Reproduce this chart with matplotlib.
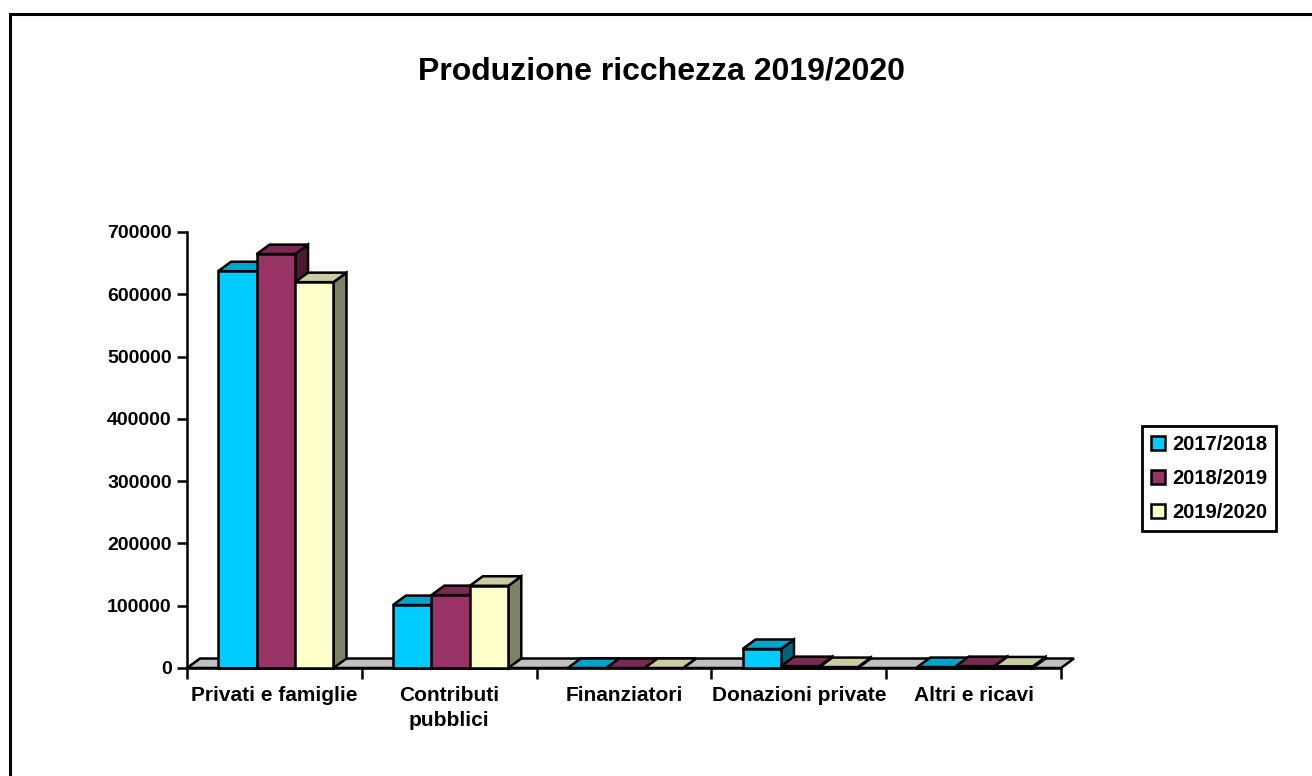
import matplotlib
matplotlib.use("Agg")
import matplotlib.pyplot as plt
from matplotlib.patches import Polygon, Rectangle
import numpy as np

categories = ["Privati e famiglie", "Contributi\npubblici", "Finanziatori",
              "Donazioni private", "Altri e ricavi"]
series_names = ["2017/2018", "2018/2019", "2019/2020"]
values_2017_2018 = [637000, 101000, 0, 30500, 1500]
values_2018_2019 = [664500, 117000, 0, 3000, 3000]
values_2019_2020 = [619500, 132000, 0, 1500, 2500]
y_ticks = [0, 100000, 200000, 300000, 400000, 500000, 600000, 700000]
title = "Produzione ricchezza 2019/2020"

series = [values_2017_2018, values_2018_2019, values_2019_2020]
front_colors = ["#00CCFF", "#993366", "#FFFFCC"]
top_colors = ["#00A3CC", "#7A2952", "#CCCCA3"]
side_colors = ["#006680", "#4D1A33", "#808066"]

plt.rcParams['font.family'] = ['Liberation Sans', 'DejaVu Sans']
plt.rcParams['font.weight'] = 'bold'

W, H = 1312, 776
fig = plt.figure(figsize=(W / 100, H / 100), dpi=100)

ax_l, ax_r, ax_b, ax_t = 187, 1061, 668, 232
ax = fig.add_axes([ax_l / W, (H - ax_b) / H, (ax_r - ax_l) / W, (ax_b - ax_t) / H])
n = len(categories)
ymax = 700000
ax.set_xlim(0, n)
ax.set_ylim(0, ymax)
ax.patch.set_visible(False)

# depth offsets (pixels -> data)
dx = 13 / (ax_r - ax_l) * n
dy = 9.5 / (ax_b - ax_t) * ymax

LW = 1.8
# floor
floor = Polygon([(0, 0), (n, 0), (n + dx, dy), (dx, dy)], closed=True,
                facecolor="#C0C0C0", edgecolor="black", lw=LW, clip_on=False, zorder=1)
ax.add_patch(floor)

w = 0.22
z = 2
for i in range(n):
    for j, vals in enumerate(series):
        x0 = i + 0.5 + (j - 1) * w - w / 2 + 0.008
        x1 = x0 + w
        h = vals[i]
        side = Polygon([(x1, 0), (x1 + dx, dy), (x1 + dx, h + dy), (x1, h)], closed=True,
                       facecolor=side_colors[j], edgecolor="black", lw=LW,
                       clip_on=False, zorder=z, joinstyle='miter')
        top = Polygon([(x0, h), (x1, h), (x1 + dx, h + dy), (x0 + dx, h + dy)], closed=True,
                      facecolor=top_colors[j], edgecolor="black", lw=LW,
                      clip_on=False, zorder=z, joinstyle='miter')
        ax.add_patch(side)
        ax.add_patch(top)
        if h > 0:
            ax.bar([x0], [h], width=w, align='edge', color=front_colors[j],
                   edgecolor="black", lw=LW, clip_on=False, zorder=z + 0.5)
        z += 1

# axes styling
for s in ["top", "right"]:
    ax.spines[s].set_visible(False)
ax.spines["left"].set_linewidth(1.8)
ax.spines["bottom"].set_linewidth(1.8)
ax.spines["left"].set_zorder(100)
ax.set_yticks(y_ticks)
ax.set_yticklabels([str(v) for v in y_ticks], fontsize=14, fontweight='bold')
ax.tick_params(axis='y', direction='out', length=7, width=1.8, pad=4)
ax.set_xticks(np.arange(0, n + 1))
ax.set_xticklabels([])
ax.tick_params(axis='x', direction='out', length=8, width=1.8)
ax.set_xticks(np.arange(n) + 0.5, minor=True)
ax.set_xticklabels(categories, minor=True, fontsize=15, fontweight='bold',
                   linespacing=1.4)
ax.tick_params(axis='x', which='minor', length=0, pad=13)

# title
fig.text(662 / W, 1 - 79 / H, title, ha='center', va='baseline',
         fontsize=23, fontweight='bold')

# legend
handles = [Rectangle((0, 0), 1, 1, facecolor=c, edgecolor='black', lw=1.8)
           for c in front_colors]
leg = fig.legend(handles, series_names, loc='upper left',
                 bbox_to_anchor=(1142 / W, 1 - 426 / H),
                 frameon=True, fancybox=False, edgecolor='black', framealpha=1,
                 prop={'size': 14.5, 'weight': 'bold'},
                 handlelength=0.7, handleheight=0.7, handletextpad=0.35,
                 labelspacing=0.75, borderpad=0.45, borderaxespad=0)
leg.get_frame().set_linewidth(2)

# outer chart border
border = Rectangle((10 / W, -0.1), 1.2, (1 - 14 / H) + 0.1, transform=fig.transFigure,
                   fill=False, edgecolor='black', lw=2.2)
fig.patches.append(border)

fig.savefig("out.png", dpi=100)
